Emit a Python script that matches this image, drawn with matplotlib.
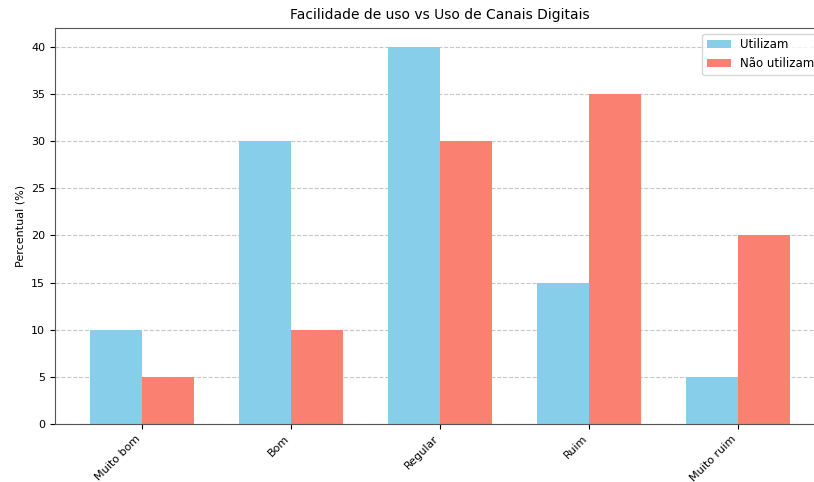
import matplotlib
matplotlib.use("Agg")
import matplotlib.pyplot as plt
import numpy as np

categorias = ["Muito bom", "Bom", "Regular", "Ruim", "Muito ruim"]
utilizam = [10, 30, 40, 15, 5]
nao_utilizam = [5, 10, 30, 35, 20]

fig = plt.figure(figsize=(8.14, 4.82), dpi=100)
ax = fig.add_axes([0.0676, 0.1203, 0.946, 0.822])

x = np.arange(len(categorias))
largura = 0.35
ax.bar(x - largura / 2, utilizam, largura, label="Utilizam", color="skyblue")
ax.bar(x + largura / 2, nao_utilizam, largura, label="Não utilizam", color="salmon")

ax.set_title("Facilidade de uso vs Uso de Canais Digitais", fontsize=10)
ax.set_ylabel("Percentual (%)", fontsize=8)
ax.set_xticks(x)
ax.set_xticklabels(categorias, rotation=45, ha="right", fontsize=8)
ax.tick_params(axis="y", labelsize=8)
ax.legend(fontsize=8.5, loc="upper right")
ax.grid(axis="y", linestyle="--", alpha=0.7)
ax.set_axisbelow(True)
for s in ax.spines.values():
    s.set_color("#555555")

fig.savefig("out.png", dpi=100)
